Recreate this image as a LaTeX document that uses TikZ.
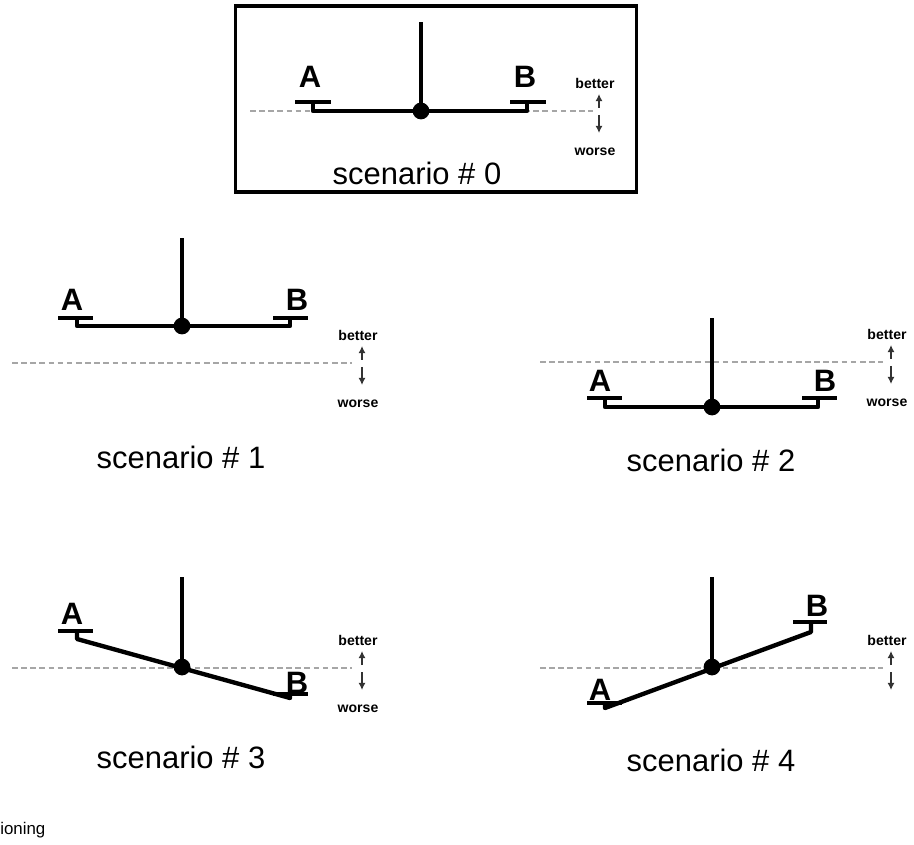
\documentclass[tikz,border=0pt]{standalone}
\usepackage{fontspec}
\setmainfont{Liberation Sans}
\usetikzlibrary{arrows.meta}

\begin{document}
\begin{tikzpicture}[
		x=0.025cm, y=-0.025cm,
		pole/.style={line width=2.6pt},
		beam/.style={line width=3.1pt, line join=round},
		pan/.style={line width=2.9pt},
		pivot/.style={circle, fill, inner sep=0pt, minimum size=0.42cm},
		level/.style={gray!70, line width=1pt, dash pattern=on 4pt off 2.5pt},
		dir/.style={-{Latex[length=5pt,width=5pt]}, line width=1pt, gray!40!black},
		lbl/.style={font=\fontsize{22}{24}\selectfont\bfseries, inner sep=0pt},
		tag/.style={font=\fontsize{10}{12}\selectfont\bfseries, inner sep=0pt},
		title/.style={font=\fontsize{22}{26}\selectfont, inner sep=0pt}
		]
		\useasboundingbox (0,0) rectangle (914,845);
		
		% Rahmen um Szenario 0
		\node[draw, line width=2.2pt, minimum width=10cm, minimum height=4.65cm] (frame) at (436,99) {};
		
		% Hilfslinien und Skala besser/schlechter
		\foreach \n/\xa/\xb/\yl in {0/250/593/111, 1/12/352/363, 2/540/883/362, 3/12/352/668, 4/540/883/668}
		{
			\draw[level] (\xa,\yl) -- (\xb,\yl);
		}
		\foreach \n/\gx/\yl in {0/595/111, 1/358/363, 2/887/362, 3/358/668, 4/887/668}
		{
			\node[tag] (better\n) at (\gx,\yl-28) {better};
			\coordinate (up\n) at (\gx+4,\yl-3);
			\coordinate (down\n) at (\gx+4,\yl+4);
			\draw[dir] (up\n) -- ++(0,-14);
			\draw[dir] (down\n) -- ++(0,18);
		}
		\foreach \n/\gx/\yl in {0/595/111, 1/358/363, 2/887/362, 3/358/668}
		{
			\node[tag] (worse\n) at (\gx,\yl+41) {worse};
		}
		
		% Szenario 0
		\node[pivot] (p0) at (421,111) {};
		\draw[pole] (p0.center) -- (421,22);
		\draw[beam] (313,102) -- (313,111) -- (527,111) -- (527,102);
		\draw[pan] (295,102) -- (331,102);
		\draw[pan] (510,102) -- (546,102);
		\node[lbl] (a0) at (310,77) {A};
		\node[lbl] (b0) at (525,77) {B};
		\node[title] (s0) at (417,173) {scenario \# 0};
		
		% Szenario 1
		\node[pivot] (p1) at (182,326) {};
		\draw[pole] (p1.center) -- (182,238);
		\draw[beam] (77,318) -- (77,326) -- (290,326) -- (290,318);
		\draw[pan] (58,318) -- (93,318);
		\draw[pan] (273,318) -- (308,318);
		\node[lbl] (a1) at (72,300) {A};
		\node[lbl] (b1) at (297,300) {B};
		\node[title] (s1) at (181,457) {scenario \# 1};
		
		% Szenario 2
		\node[pivot] (p2) at (712,407) {};
		\draw[pole] (p2.center) -- (712,318);
		\draw[beam] (605,398) -- (605,407) -- (818,407) -- (818,398);
		\draw[pan] (587,398) -- (622,398);
		\draw[pan] (802,398) -- (837,398);
		\node[lbl] (a2) at (600,381) {A};
		\node[lbl] (b2) at (825,381) {B};
		\node[title] (s2) at (711,460) {scenario \# 2};
		
		% Szenario 3
		\node[pivot] (p3) at (182,667) {};
		\draw[pole] (p3.center) -- (182,577);
		\draw[beam] (77,631) -- (77,639) -- (290,698) -- (290,694);
		\draw[pan] (58,631) -- (93,631);
		\draw[pan] (273,694) -- (308,694);
		\node[lbl] (a3) at (72,614) {A};
		\node[lbl] (b3) at (297,683) {B};
		\node[title] (s3) at (181,757) {scenario \# 3};
		
		% Szenario 4
		\node[pivot] (p4) at (712,667) {};
		\draw[pole] (p4.center) -- (712,577);
		\draw[beam] (811,622) -- (811,632) -- (605,708) -- (605,703);
		\draw[pan] (587,703) -- (622,703);
		\draw[pan] (793,622) -- (827,622);
		\node[lbl] (a4) at (600,690) {A};
		\node[lbl] (b4) at (817,606) {B};
		\node[title] (s4) at (711,760) {scenario \# 4};
		
		% Rest der Bildunterschrift
		\node[anchor=west, font=\fontsize{12}{14}\selectfont, inner sep=0pt] (cut) at (0,830) {ioning};
		
	\end{tikzpicture}
\end{document}
